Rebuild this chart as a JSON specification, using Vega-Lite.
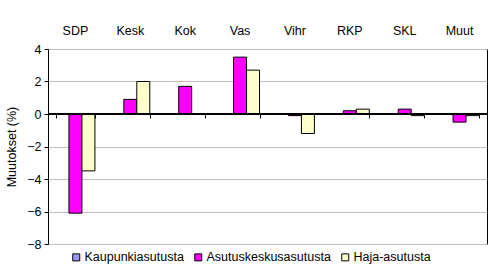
{
  "$schema": "https://vega.github.io/schema/vega-lite/v6.json",
  "autosize": "none",
  "width": 439,
  "height": 195,
  "padding": {"left": 48, "top": 49, "right": 6, "bottom": 33},
  "background": "white",
  "config": {
    "font": "Liberation Sans",
    "view": {"stroke": "black", "strokeWidth": 1},
    "axis": {"labelFont": "Liberation Sans", "labelFontSize": 12.5, "labelColor": "black", "titleFont": "Liberation Sans", "titleFontSize": 12.5, "titleFontWeight": "normal", "titleColor": "black"},
    "axisY": {"values": [-8, -6, -4, -2, 0, 2, 4], "labelOverlap": false, "labelFlush": false, "title": "Muutokset (%)", "titlePadding": 8, "grid": true, "gridColor": "#c0c0c0", "domainColor": "black", "tickColor": "black", "tickSize": 4, "labelPadding": 3},
    "legend": {"labelFont": "Liberation Sans", "labelFontSize": 12.5, "labelColor": "black"}
  },
  "data": {
    "values": [
      {"puolue": "SDP", "alue": "Kaupunkiasutusta", "muutos": 0},
      {"puolue": "SDP", "alue": "Asutuskeskusasutusta", "muutos": -6.1},
      {"puolue": "SDP", "alue": "Haja-asutusta", "muutos": -3.5},
      {"puolue": "Kesk", "alue": "Kaupunkiasutusta", "muutos": 0},
      {"puolue": "Kesk", "alue": "Asutuskeskusasutusta", "muutos": 0.9},
      {"puolue": "Kesk", "alue": "Haja-asutusta", "muutos": 2.0},
      {"puolue": "Kok", "alue": "Kaupunkiasutusta", "muutos": 0},
      {"puolue": "Kok", "alue": "Asutuskeskusasutusta", "muutos": 1.7},
      {"puolue": "Kok", "alue": "Haja-asutusta", "muutos": 0},
      {"puolue": "Vas", "alue": "Kaupunkiasutusta", "muutos": 0},
      {"puolue": "Vas", "alue": "Asutuskeskusasutusta", "muutos": 3.5},
      {"puolue": "Vas", "alue": "Haja-asutusta", "muutos": 2.7},
      {"puolue": "Vihr", "alue": "Kaupunkiasutusta", "muutos": 0},
      {"puolue": "Vihr", "alue": "Asutuskeskusasutusta", "muutos": -0.1},
      {"puolue": "Vihr", "alue": "Haja-asutusta", "muutos": -1.2},
      {"puolue": "RKP", "alue": "Kaupunkiasutusta", "muutos": 0},
      {"puolue": "RKP", "alue": "Asutuskeskusasutusta", "muutos": 0.2},
      {"puolue": "RKP", "alue": "Haja-asutusta", "muutos": 0.3},
      {"puolue": "SKL", "alue": "Kaupunkiasutusta", "muutos": 0},
      {"puolue": "SKL", "alue": "Asutuskeskusasutusta", "muutos": 0.3},
      {"puolue": "SKL", "alue": "Haja-asutusta", "muutos": -0.1},
      {"puolue": "Muut", "alue": "Kaupunkiasutusta", "muutos": 0},
      {"puolue": "Muut", "alue": "Asutuskeskusasutusta", "muutos": -0.5},
      {"puolue": "Muut", "alue": "Haja-asutusta", "muutos": -0.1}
    ]
  },
  "resolve": {"axis": {"x": "independent"}},
  "layer": [
    {
      "mark": {"type": "bar", "stroke": "black", "strokeWidth": 1},
      "encoding": {
        "x": {
          "field": "puolue", "type": "nominal", "sort": null,
          "scale": {"paddingInner": 0.29, "paddingOuter": 0.145},
          "axis": {"orient": "top", "title": null, "domain": false, "ticks": false, "labelAngle": 0, "labelPadding": 12, "grid": false}
        },
        "xOffset": {"field": "alue", "type": "nominal", "sort": ["Kaupunkiasutusta", "Asutuskeskusasutusta", "Haja-asutusta"]},
        "y": {
          "field": "muutos", "type": "quantitative",
          "scale": {"domain": [-8, 4], "nice": false},
          "title": "Muutokset (%)"
        },
        "color": {
          "field": "alue", "type": "nominal",
          "sort": ["Kaupunkiasutusta", "Asutuskeskusasutusta", "Haja-asutusta"],
          "scale": {"domain": ["Kaupunkiasutusta", "Asutuskeskusasutusta", "Haja-asutusta"], "range": ["#9999FF", "#FF00FF", "#FFFFCC"]},
          "legend": {"title": null, "orient": "none", "legendX": 22, "legendY": 202, "direction": "horizontal", "symbolType": "square", "symbolSize": 49, "symbolStrokeColor": "black", "symbolStrokeWidth": 1, "symbolOpacity": 1, "labelOffset": 2, "columnPadding": 8}
        }
      }
    },
    {
      "mark": {"type": "rule", "color": "black", "strokeWidth": 1},
      "encoding": {
        "y": {"datum": 0, "type": "quantitative", "title": "Muutokset (%)"}
      }
    },
    {
      "mark": {"type": "bar", "opacity": 0},
      "encoding": {
        "x": {
          "field": "puolue", "type": "nominal", "sort": null,
          "axis": {"orient": "bottom", "offset": -130, "zindex": 2, "title": null, "labels": false, "domain": true, "domainColor": "black", "domainWidth": 1, "ticks": true, "tickBand": "extent", "tickSize": 4, "tickColor": "black", "grid": false}
        },
        "y": {"datum": 0, "type": "quantitative", "title": "Muutokset (%)"}
      }
    }
  ]
}
